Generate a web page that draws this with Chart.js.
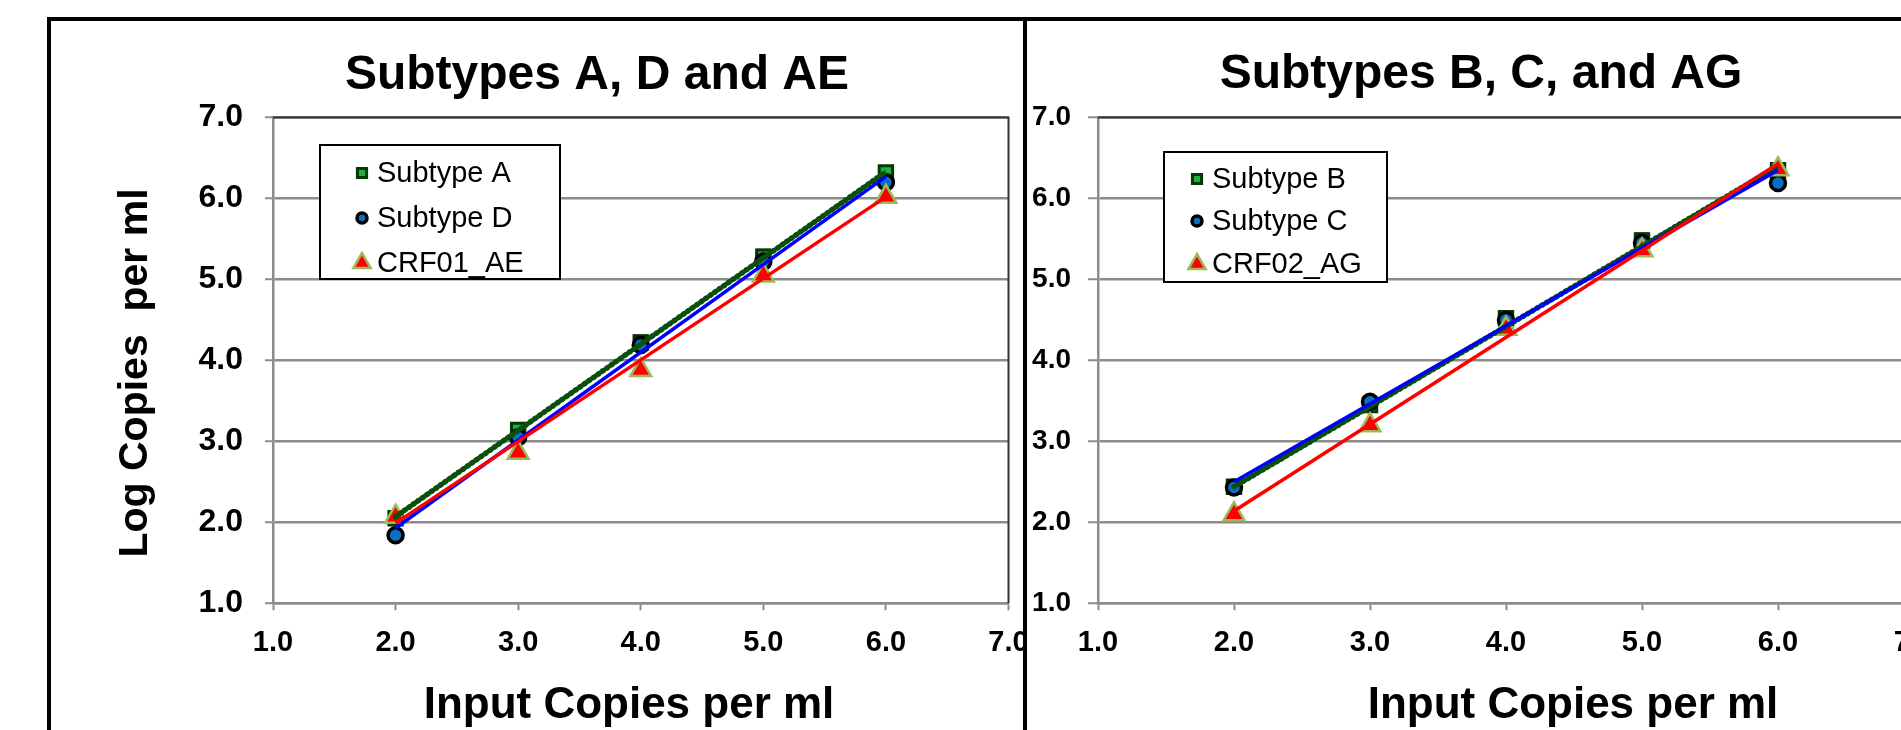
<!DOCTYPE html>
<html>
<head>
<meta charset="utf-8">
<script src="https://cdn.jsdelivr.net/npm/chart.js@4.4.0/dist/chart.umd.min.js"></script>
<style>
  html, body { margin: 0; padding: 0; background: #fff; }
  body { width: 1901px; height: 730px; overflow: hidden; position: relative; }
  .rule { position: absolute; background: #000; }
  .panel { position: absolute; top: 21px; }
  #leftPanel { left: 51px; }
  #rightPanel { left: 1027px; }
</style>
</head>
<body>
<div class="rule" style="left:47px; top:17px; width:1854px; height:4px"></div>
<div class="rule" style="left:47px; top:17px; width:4px; height:713px"></div>
<div class="rule" style="left:1023px; top:17px; width:4px; height:713px"></div>
<div class="panel" id="leftPanel"><canvas id="chartLeft" width="972" height="709"></canvas></div>
<div class="panel" id="rightPanel"><canvas id="chartRight" width="950" height="709"></canvas></div>

<script>
// x positions of the measured points and of the trendline ends
const xInput = [2, 3, 4, 5, 6];
const trendX = [2, 6];
const axisTicks = [1, 2, 3, 4, 5, 6, 7];

// left panel: subtypes A, D and CRF01_AE
const subtypeA = [2.05, 3.14, 4.22, 5.28, 6.32];
const subtypeAErr = [0.04, 0.06, 0.08, 0.08, 0.04];
const subtypeD = [1.84, 3.05, 4.19, 5.22, 6.2];
const crf01AE = [2.07, 2.86, 3.88, 5.05, 6.02];
const trendA = [2.07, 6.33];
const trendD = [1.93, 6.27];
const trendAE = [1.99, 6.02];

// right panel: subtypes B, C and CRF02_AG
const subtypeB = [2.44, 3.45, 4.52, 5.48, 6.35];
const subtypeBErr = [0.04, 0.08, 0.08, 0.08, 0.04];
const subtypeC = [2.43, 3.49, 4.5, 5.45, 6.19];
const crf02AG = [2.1, 3.2, 4.39, 5.36, 6.36];
const trendB = [2.44, 6.40];
const trendC = [2.50, 6.35];
const trendAG = [2.14, 6.43];

const FONT = '"Liberation Sans", Arial, Helvetica, sans-serif';
const GRID = '#8c8c8c';

const textPlugin = items => ({
  id: 'panelText',
  afterDraw(chart) {
    const ctx = chart.ctx;
    items.forEach(t => {
      ctx.save();
      ctx.font = t.font;
      ctx.fillStyle = '#000';
      ctx.textAlign = 'center';
      ctx.textBaseline = 'alphabetic';
      ctx.translate(t.x, t.y);
      if (t.rotate) ctx.rotate(t.rotate);
      ctx.fillText(t.text, 0, 0);
      ctx.restore();
    });
  }
});

const legendPlugin = box => ({
  id: 'legendBox',
  afterDraw(chart) {
    const ctx = chart.ctx;
    const items = chart.data.datasets.filter(ds => !ds.trend);
    ctx.save();
    ctx.fillStyle = '#fff';
    ctx.fillRect(box.x, box.y, box.w, box.h);
    ctx.lineWidth = 2;
    ctx.strokeStyle = '#000';
    ctx.strokeRect(box.x, box.y, box.w, box.h);
    items.forEach((ds, i) => {
      const cy = box.rows[i];
      ctx.fillStyle = ds.backgroundColor;
      ctx.strokeStyle = ds.borderColor;
      ctx.lineWidth = ds.pointBorderWidth;
      Chart.helpers.drawPoint(ctx, { pointStyle: ds.pointStyle, radius: ds.legendRadius, rotation: 0, borderWidth: ds.pointBorderWidth }, box.markerX, cy);
      ctx.fillStyle = '#000';
      ctx.font = '29px ' + FONT;
      ctx.textAlign = 'left';
      ctx.textBaseline = 'middle';
      ctx.fillText(ds.label, box.textX, cy + 1);
    });
    ctx.restore();
  }
});

const errorBars = {
  id: 'errorBars',
  beforeDatasetsDraw(chart) {
    const { ctx, scales: { x, y } } = chart;
    ctx.save();
    ctx.strokeStyle = '#000';
    ctx.lineWidth = 3;
    chart.data.datasets.forEach(ds => {
      if (!ds.errors) return;
      ds.data.forEach((pt, i) => {
        const px = x.getPixelForValue(pt.x);
        const top = y.getPixelForValue(pt.y + ds.errors[i]);
        const bot = y.getPixelForValue(pt.y - ds.errors[i]);
        ctx.beginPath();
        ctx.moveTo(px, top); ctx.lineTo(px, bot);
        ctx.moveTo(px - 7, top); ctx.lineTo(px + 7, top);
        ctx.moveTo(px - 7, bot); ctx.lineTo(px + 7, bot);
        ctx.stroke();
      });
    });
    ctx.restore();
  }
};

const plotFrame = {
  id: 'plotFrame',
  beforeDatasetsDraw(chart) {
    const { ctx, chartArea: a } = chart;
    ctx.save();
    ctx.strokeStyle = '#333';
    ctx.lineWidth = 2;
    ctx.beginPath();
    ctx.moveTo(a.left, a.top);
    ctx.lineTo(a.right, a.top);
    ctx.lineTo(a.right, a.bottom);
    ctx.stroke();
    ctx.restore();
  }
};

function makePanel(id, p) {
  const pts = ys => xInput.map((x, i) => ({ x, y: ys[i] }));
  const line = ys => trendX.map((x, i) => ({ x, y: ys[i] }));
  const datasets = [
    { label: p.names[0], data: pts(p.series[0]), errors: p.errors, pointStyle: 'rect', pointRadius: 9.5, legendRadius: 6.5,
      backgroundColor: '#1fae3f', borderColor: '#043804', pointBorderWidth: 3, order: 6 },
    { label: p.names[1], data: pts(p.series[1]), pointStyle: 'circle', pointRadius: 7.5, legendRadius: 5,
      backgroundColor: '#0a6fc2', borderColor: '#000', pointBorderWidth: 3.5, order: 5 },
    { label: p.names[2], data: pts(p.series[2]), pointStyle: 'triangle', pointRadius: 12, legendRadius: 10,
      backgroundColor: '#ff0000', borderColor: '#9bbb59', pointBorderWidth: 2.5, order: 4 },
    { trend: true, data: line(p.trends[0]), showLine: true, pointRadius: 0, borderColor: '#0d640d', borderWidth: 4.5, order: 3 },
    // dotted overlay gives the beaded look of the green trendline
    { trend: true, data: line(p.trends[0]), showLine: true, pointRadius: 0, borderColor: '#0a4f0a', borderWidth: 5.5,
      borderDash: [0.5, 5], borderCapStyle: 'round', order: 2 },
    { trend: true, data: line(p.trends[1]), showLine: true, pointRadius: 0, borderColor: '#0000ff', borderWidth: 3.5, order: 1 },
    { trend: true, data: line(p.trends[2]), showLine: true, pointRadius: 0, borderColor: '#ff0000', borderWidth: 3.5, order: 0 }
  ];

  return new Chart(document.getElementById(id), {
    type: 'scatter',
    data: { datasets },
    plugins: [plotFrame, errorBars, legendPlugin(p.legend), textPlugin(p.texts)],
    options: {
      responsive: false,
      animation: false,
      events: [],
      layout: { padding: p.padding },
      plugins: { legend: { display: false }, tooltip: { enabled: false }, title: { display: false } },
      scales: {
        x: {
          type: 'linear', min: 1, max: 7,
          afterBuildTicks: s => { s.ticks = axisTicks.map(v => ({ value: v })); },
          afterFit: s => { s.height = 60; s.paddingLeft = 0; s.paddingRight = 0; },
          grid: { drawOnChartArea: false, tickLength: 7, tickWidth: 2, tickColor: GRID },
          border: { color: GRID, width: 2.5 },
          ticks: { padding: 15, color: '#000', maxRotation: 0, autoSkip: false,
                   font: { family: FONT, size: 29, weight: 'bold' }, callback: v => v.toFixed(1) }
        },
        y: {
          type: 'linear', min: 1, max: 7,
          afterBuildTicks: s => { s.ticks = axisTicks.map(v => ({ value: v })); },
          afterFit: s => { s.width = p.yWidth; s.paddingTop = 0; s.paddingBottom = 0; },
          grid: { color: GRID, lineWidth: 2.5, tickLength: p.yTick, tickWidth: 2, tickColor: GRID },
          border: { color: GRID, width: 2.5 },
          ticks: { padding: p.yPad, color: '#000', autoSkip: false,
                   font: { family: FONT, size: p.ySize, weight: 'bold' }, callback: v => v.toFixed(1) }
        }
      }
    }
  });
}

makePanel('chartLeft', {
  names: ['Subtype A', 'Subtype D', 'CRF01_AE'],
  series: [subtypeA, subtypeD, crf01AE],
  errors: subtypeAErr,
  trends: [trendA, trendD, trendAE],
  padding: { left: 22, right: 2, top: 96.5, bottom: 66.7 },
  yWidth: 200, yTick: 8, yPad: 22, ySize: 32,
  legend: { x: 269, y: 124, w: 240, h: 134, rows: [152, 197, 242], markerX: 311, textX: 326 },
  texts: [
    { text: 'Subtypes A, D and AE', font: 'bold 48px ' + FONT, x: 546, y: 68 },
    { text: 'Input Copies per ml', font: 'bold 44px ' + FONT, x: 578, y: 697 },
    { text: 'Log Copies  per ml', font: 'bold 41px ' + FONT, x: 96, y: 352, rotate: -Math.PI / 2 }
  ]
});

makePanel('chartRight', {
  names: ['Subtype B', 'Subtype C', 'CRF02_AG'],
  series: [subtypeB, subtypeC, crf02AG],
  errors: subtypeBErr,
  trends: [trendB, trendC, trendAG],
  padding: { left: 0, right: 63, top: 96.5, bottom: 66.7 },
  yWidth: 71, yTick: 10, yPad: 17, ySize: 28,
  legend: { x: 137, y: 131, w: 223, h: 130, rows: [158, 200, 243], markerX: 170, textX: 185 },
  texts: [
    { text: 'Subtypes B, C, and AG', font: 'bold 48px ' + FONT, x: 454, y: 67 },
    { text: 'Input Copies per ml', font: 'bold 44px ' + FONT, x: 546, y: 697 }
  ]
});
</script>
</body>
</html>
